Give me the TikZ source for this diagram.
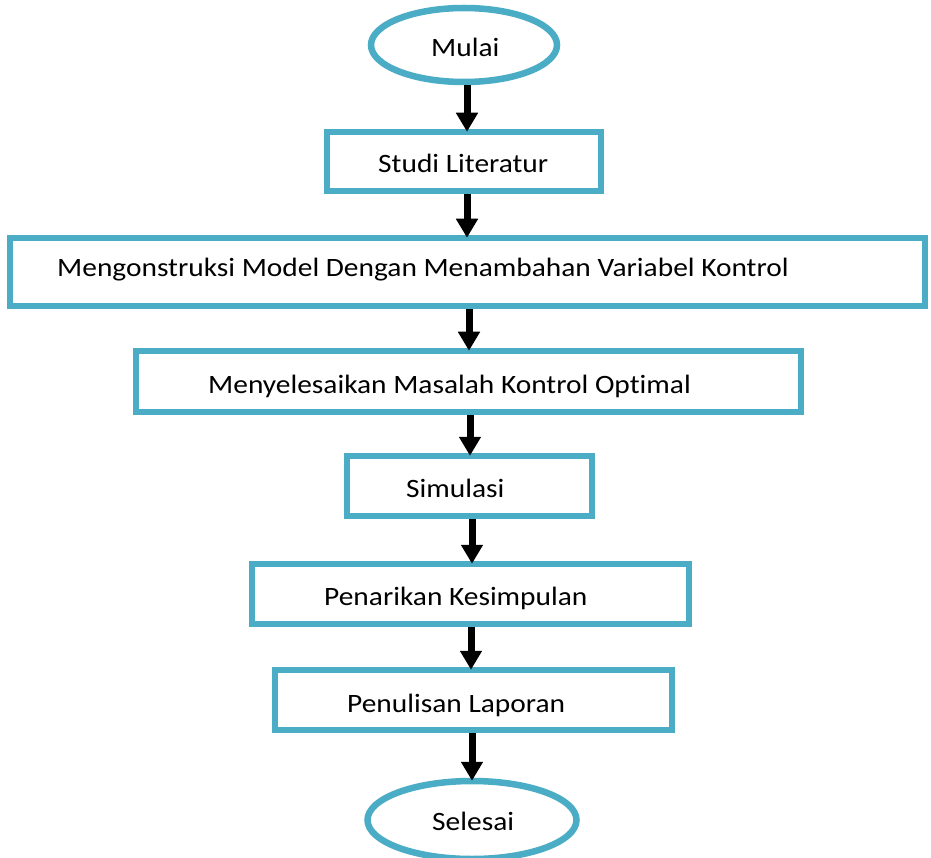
\documentclass[tikz,border=0pt]{standalone}
\usepackage{fontspec}
\setmainfont[Ligatures={NoCommon}]{Carlito}
\usetikzlibrary{arrows.meta,shapes.geometric}
\definecolor{flowblue}{RGB}{75,172,198}
\tikzset{
  boxshape/.style={draw=flowblue,line width=6.5pt,rectangle,inner sep=0pt,fill=white},
  ovalshape/.style={draw=flowblue,line width=6.5pt,ellipse,inner sep=0pt,fill=white},
  lbl/.style={anchor=base west,inner sep=0pt,xscale=1.11,transform shape,font=\fontsize{26.5}{30}\selectfont},
  arr/.style={line width=7pt,-{Triangle[width=21pt,length=19pt]},shorten <=0pt,shorten >=-3pt}
}
\begin{document}
\begin{tikzpicture}[x=1pt,y=-1pt]
\useasboundingbox (0,0) rectangle (931,858);
\node[ovalshape,minimum width=186pt,minimum height=74pt] (mulai) at (464,45) {};
\node[boxshape,minimum width=274pt,minimum height=59pt] (studi) at (464,161.5) {};
\node[boxshape,minimum width=915pt,minimum height=68pt] (model) at (467.5,272) {};
\node[boxshape,minimum width=665pt,minimum height=61pt] (kontrol) at (468.5,381.5) {};
\node[boxshape,minimum width=245pt,minimum height=60pt] (sim) at (469.5,486) {};
\node[boxshape,minimum width=437pt,minimum height=60pt] (tarik) at (470.5,594) {};
\node[boxshape,minimum width=397pt,minimum height=60pt] (tulis) at (473.5,700) {};
\node[ovalshape,minimum width=209pt,minimum height=78pt] (selesai) at (472,820) {};

\node[lbl] (t1) at (431,57) {Mulai};
\node[lbl] (t2) at (378,173) {Studi Literatur};
\node[lbl] (t3) at (57,277) {Mengonstruksi Model Dengan Menambahan Variabel Kontrol};
\node[lbl] (t4) at (208,393) {Menyelesaikan Masalah Kontrol Optimal};
\node[lbl] (t5) at (406,497) {Simulasi};
\node[lbl] (t6) at (324,605) {Penarikan Kesimpulan};
\node[lbl] (t7) at (347,712) {Penulisan Laporan};
\node[lbl] (t8) at (432,830) {Selesai};

\draw[arr] (mulai.south -| 467,0) -- (studi.north -| 467,0);
\draw[arr] (studi.south -| 467,0) -- (model.north -| 467,0);
\draw[arr] (model.south -| 469,0) -- (kontrol.north -| 469,0);
\draw[arr] (kontrol.south -| 470,0) -- (sim.north -| 470,0);
\draw[arr] (sim.south -| 472,0) -- (tarik.north -| 472,0);
\draw[arr] (tarik.south -| 471,0) -- (tulis.north -| 471,0);
\draw[arr] (tulis.south -| 472,0) -- (selesai.north -| 472,0);
\end{tikzpicture}
\end{document}
